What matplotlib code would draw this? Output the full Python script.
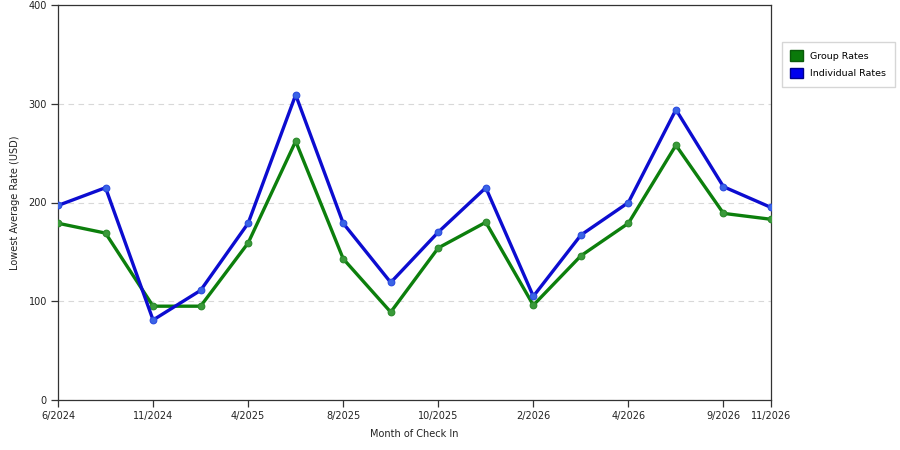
import matplotlib
matplotlib.use('Agg')
import matplotlib.pyplot as plt
from matplotlib.patches import Patch

# valores
months = ['6/2024', '', '11/2024', '', '4/2025', '', '8/2025', '',
          '10/2025', '', '2/2026', '', '4/2026', '', '9/2026', '11/2026']
group_rates = [179, 169, 95, 95, 159, 262, 143, 89, 154, 180, 96, 146, 179, 258, 189, 183]
individual_rates = [197, 215, 81, 111, 179, 309, 179, 119, 170, 215, 105, 167, 200, 294, 216, 195]

x = list(range(len(months)))
tick_pos = [i for i, m in enumerate(months) if m]
tick_lab = [m for m in months if m]

fig = plt.figure(figsize=(9, 4.5), dpi=100)
ax = fig.add_axes([58 / 900, 50 / 450, 713 / 900, 395 / 450])

ax.plot(x, group_rates, color='#0c7f0c', linewidth=2.4, marker='o', markersize=4.8,
        markerfacecolor='#3a9a3a', markeredgecolor='#2a8a2a', markeredgewidth=0.8, zorder=3)
ax.plot(x, individual_rates, color='#0c0cd0', linewidth=2.4, marker='o', markersize=4.8,
        markerfacecolor='#3a64e6', markeredgecolor='#2a4ae0', markeredgewidth=0.8, zorder=3)

ax.set_xlim(0, len(months) - 1)
ax.set_ylim(0, 400)
ax.set_yticks([0, 100, 200, 300, 400])
ax.set_xticks(tick_pos)
ax.set_xticklabels(tick_lab)
ax.yaxis.grid(True, color='#d8d8d8', linestyle=(0, (5, 4)), linewidth=0.8)
ax.set_axisbelow(True)

for s in ax.spines.values():
    s.set_color('#333333')
    s.set_linewidth(0.9)
ax.tick_params(axis='both', direction='out', length=5, width=0.9, color='#333333',
               labelsize=7, labelcolor='#222222', pad=3)

ax.set_xlabel('Month of Check In', fontsize=7, color='#222222', labelpad=6)
ax.set_ylabel('Lowest Average Rate (USD)', fontsize=7, color='#222222', labelpad=6)

handles = [Patch(facecolor='#0a7a0a', edgecolor='#0a5a0a', label='Group Rates'),
           Patch(facecolor='#0000ee', edgecolor='#00008a', label='Individual Rates')]
fig.legend(handles=handles, loc='upper left', bbox_to_anchor=(777 / 900, 1 - 37 / 450),
           fontsize=6.8, frameon=True, fancybox=False, edgecolor='#cccccc',
           handlelength=1.3, handleheight=1.3, handletextpad=0.8,
           borderpad=0.9, labelspacing=0.8)

fig.savefig('out.png', dpi=100)
